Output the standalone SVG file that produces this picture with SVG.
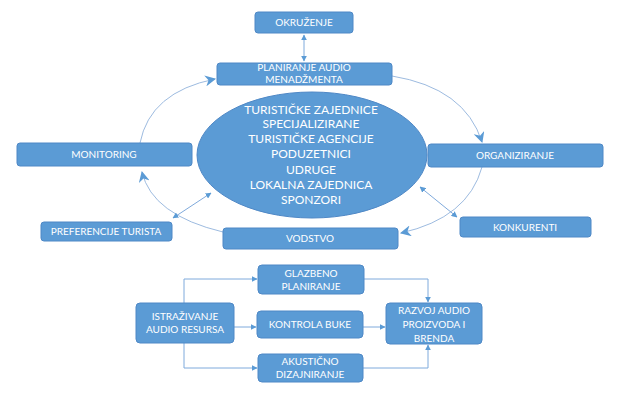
<svg xmlns="http://www.w3.org/2000/svg" width="635" height="400" viewBox="0 0 635 400">
<style>
.box{fill:#5b9bd5;stroke:#4f88c6;stroke-width:1}
.t{font-family:Lato,"Liberation Sans",sans-serif;font-size:10px;fill:#ffffff;text-anchor:middle}
.te{font-family:Lato,"Liberation Sans",sans-serif;font-size:12px;fill:#ffffff;text-anchor:middle}
.c{fill:none;stroke:#9dbbe0;stroke-width:1}
.l{fill:none;stroke:#7faadc;stroke-width:1}
</style>
<defs>
<marker id="ah" viewBox="0 0 10 10" refX="9" refY="5" markerWidth="11" markerHeight="11" orient="auto" markerUnits="userSpaceOnUse">
<path d="M0,0 L10,5 L0,10 L3,5 Z" fill="#5b9bd5"/>
</marker>
<marker id="as" viewBox="0 0 10 10" refX="9" refY="5" markerWidth="6" markerHeight="6" orient="auto-start-reverse" markerUnits="userSpaceOnUse">
<path d="M0,0 L10,5 L0,10 Z" fill="#5b9bd5"/>
</marker>
</defs>
<g id="connectors">
<path class="c" d="M392,76 Q465,88 482,142" marker-end="url(#ah)"/>
<path class="c" d="M482,167 Q468,218 401,233" marker-end="url(#ah)"/>
<path class="c" d="M223,232 Q152,215 142,172" marker-end="url(#ah)"/>
<path class="c" d="M140,143 Q150,92 215,79" marker-end="url(#ah)"/>
<line class="l" x1="304" y1="35" x2="304" y2="61" marker-start="url(#as)" marker-end="url(#as)"/>
<line class="l" x1="173" y1="218" x2="211" y2="193" marker-start="url(#as)" marker-end="url(#as)"/>
<line class="l" x1="420" y1="187" x2="457" y2="217" marker-start="url(#as)" marker-end="url(#as)"/>
<path class="l" d="M184,303 V279 H257" marker-end="url(#as)"/>
<line class="l" x1="234" y1="327" x2="256" y2="327" marker-end="url(#as)"/>
<path class="l" d="M184,343 V368 H257" marker-end="url(#as)"/>
<path class="l" d="M364,279 H428 V302" marker-end="url(#as)"/>
<line class="l" x1="363" y1="327" x2="385" y2="327" marker-end="url(#as)"/>
<path class="l" d="M363,368 H428 V345" marker-end="url(#as)"/>
</g>
<g id="okruzenje"><rect class="box" x="255" y="12" width="98" height="21" rx="3"/><text class="t" x="304" y="26">OKRUŽENJE</text></g>
<g id="planiranje"><rect class="box" x="217" y="63" width="175" height="22" rx="3"/><text class="t" x="304" y="71">PLANIRANJE AUDIO</text><text class="t" x="304" y="83">MENADŽMENTA</text></g>
<g id="dionici"><ellipse cx="312" cy="155" rx="115" ry="63" fill="#5b9bd5" stroke="#4f88c6"/>
<text class="te" x="311" y="114">TURISTIČKE ZAJEDNICE</text>
<text class="te" x="311" y="128">SPECIJALIZIRANE</text>
<text class="te" x="311" y="143">TURISTIČKE AGENCIJE</text>
<text class="te" x="311" y="158">PODUZETNICI</text>
<text class="te" x="311" y="174">UDRUGE</text>
<text class="te" x="311" y="189">LOKALNA ZAJEDNICA</text>
<text class="te" x="311" y="204">SPONZORI</text></g>
<g id="monitoring"><rect class="box" x="17" y="143" width="175" height="23" rx="3"/><text class="t" x="104" y="158">MONITORING</text></g>
<g id="organiziranje"><rect class="box" x="428" y="144" width="175" height="23" rx="3"/><text class="t" x="515" y="159">ORGANIZIRANJE</text></g>
<g id="preferencije"><rect class="box" x="41" y="222" width="131" height="19" rx="3"/><text class="t" x="106" y="235">PREFERENCIJE TURISTA</text></g>
<g id="konkurenti"><rect class="box" x="460" y="217" width="131" height="20" rx="3"/><text class="t" x="525" y="231">KONKURENTI</text></g>
<g id="vodstvo"><rect class="box" x="223" y="228" width="175" height="21" rx="3"/><text class="t" x="310" y="242">VODSTVO</text></g>
<g id="glazbeno"><rect class="box" x="258" y="265" width="106" height="29" rx="4"/><text class="t" x="311" y="277">GLAZBENO</text><text class="t" x="311" y="290">PLANIRANJE</text></g>
<g id="istrazivanje"><rect class="box" x="136" y="303" width="98" height="40" rx="4"/><text class="t" x="185" y="320">ISTRAŽIVANJE</text><text class="t" x="185" y="333">AUDIO RESURSA</text></g>
<g id="kontrola"><rect class="box" x="257" y="311" width="106" height="27" rx="4"/><text class="t" x="310" y="328">KONTROLA BUKE</text></g>
<g id="akusticno"><rect class="box" x="258" y="354" width="105" height="28" rx="4"/><text class="t" x="310" y="365">AKUSTIČNO</text><text class="t" x="310" y="378">DIZAJNIRANJE</text></g>
<g id="razvoj"><rect class="box" x="386" y="303" width="96" height="41" rx="4"/><text class="t" x="434" y="314">RAZVOJ AUDIO</text><text class="t" x="434" y="328">PROIZVODA I</text><text class="t" x="434" y="342">BRENDA</text></g>
</svg>
